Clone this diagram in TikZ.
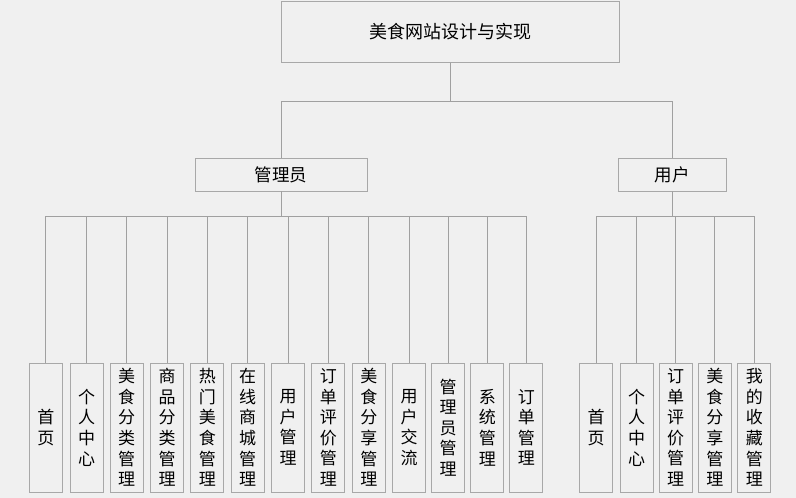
\documentclass[tikz,border=0pt]{standalone}
\usepackage{fontspec}
\setmainfont{Noto Sans CJK SC}
\definecolor{bg}{HTML}{F0F0F0}
\definecolor{boxgray}{HTML}{A8A8A8}
\definecolor{linegray}{HTML}{A0A0A0}
\begin{document}
\begin{tikzpicture}[x=1pt,y=-1pt,
  box/.style={draw=boxgray, fill=bg, line width=1pt, inner sep=0pt, font=\fontsize{17.5}{20}\selectfont},
  leaf/.style={box, minimum width=33pt, minimum height=129pt, align=center, font=\fontsize{17}{20.6}\selectfont},
  link/.style={draw=linegray, line width=1pt}]
\fill[bg] (0,0) rectangle (796,498);
\useasboundingbox (0,0) rectangle (796,498);

\node[box, minimum width=338pt, minimum height=61pt, font=\fontsize{18}{20}\selectfont] (root) at (450,31.5) {美食网站设计与实现};
\node[box, minimum width=172pt, minimum height=33pt] (admin) at (281,174.5) {管理员};
\node[box, minimum width=108pt, minimum height=33pt] (user) at (672,174.5) {用户};

\node[leaf] (a1) at (45.8,427.5) {首\\页};
\node[leaf] (a2) at (86.5,427.5) {个\\人\\中\\心};
\node[leaf] (a3) at (126.7,427.5) {美\\食\\分\\类\\管\\理};
\node[leaf] (a4) at (167,427.5) {商\\品\\分\\类\\管\\理};
\node[leaf] (a5) at (207.3,427.5) {热\\门\\美\\食\\管\\理};
\node[leaf] (a6) at (247.7,427.5) {在\\线\\商\\城\\管\\理};
\node[leaf] (a7) at (288,427.5) {用\\户\\管\\理};
\node[leaf] (a8) at (328.3,427.5) {订\\单\\评\\价\\管\\理};
\node[leaf] (a9) at (368.8,427.5) {美\\食\\分\\享\\管\\理};
\node[leaf] (a10) at (409.2,427.5) {用\\户\\交\\流};
\node[leaf] (a11) at (448,427.5) {管\\理\\员\\管\\理};
\node[leaf] (a12) at (487.3,427.5) {系\\统\\管\\理};
\node[leaf] (a13) at (526.3,427.5) {订\\单\\管\\理};

\node[leaf] (u1) at (596,427.5) {首\\页};
\node[leaf] (u2) at (636.5,427.5) {个\\人\\中\\心};
\node[leaf] (u3) at (675.5,427.5) {订\\单\\评\\价\\管\\理};
\node[leaf] (u4) at (714.8,427.5) {美\\食\\分\\享\\管\\理};
\node[leaf] (u5) at (754.3,427.5) {我\\的\\收\\藏\\管\\理};

\draw[link] (root.south) -- ++(0,39) -| (admin.north);
\draw[link] (root.south) -- ++(0,39) -| (user.north);
\foreach \i in {1,...,13} {
  \draw[link] (admin.south) -- ++(0,24.5) -| (a\i.north);
}
\foreach \i in {1,...,5} {
  \draw[link] (user.south) -- ++(0,24.5) -| (u\i.north);
}
\end{tikzpicture}
\end{document}
